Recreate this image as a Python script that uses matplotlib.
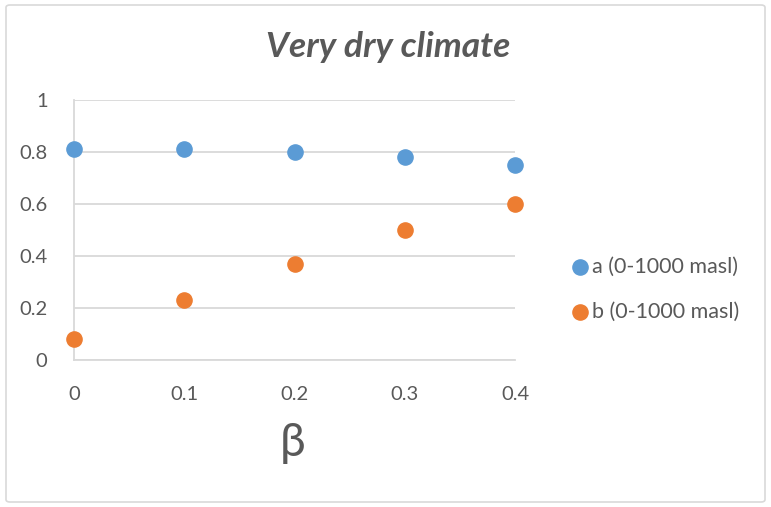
import matplotlib
matplotlib.use("Agg")
from matplotlib import pyplot as plt
from matplotlib.patches import FancyBboxPatch

beta = [0, 0.1, 0.2, 0.3, 0.4]
a_vals = [0.81, 0.81, 0.80, 0.78, 0.75]
b_vals = [0.08, 0.23, 0.37, 0.50, 0.60]
x_ticks = [0, 0.1, 0.2, 0.3, 0.4]
y_ticks = [0, 0.2, 0.4, 0.6, 0.8, 1]

text_col = "#595959"
grid_col = "#D9D9D9"

plt.rcParams["font.family"] = ["Lato", "DejaVu Sans"]

fig = plt.figure(figsize=(7.71, 5.07), dpi=100)
ax = fig.add_axes([74 / 771, 1 - 360 / 507, (515 - 74) / 771, 260 / 507])

ax.scatter(beta, a_vals, s=120, color="#5B9BD5", label="a (0-1000 masl)", zorder=3, clip_on=False)
ax.scatter(beta, b_vals, s=120, color="#ED7D31", label="b (0-1000 masl)", zorder=3, clip_on=False)

ax.set_xlim(0, 0.4)
ax.set_ylim(0, 1)
ax.set_xticks(x_ticks)
ax.set_xticklabels([f"{v:g}" for v in x_ticks])
ax.set_yticks(y_ticks)
ax.set_yticklabels([f"{v:g}" for v in y_ticks])
ax.tick_params(length=0, labelsize=14.5, colors=text_col)
ax.tick_params(axis="x", pad=19)
ax.tick_params(axis="y", pad=19)
ax.grid(axis="y", color=grid_col, linewidth=1.3)
ax.set_axisbelow(True)
for side in ["top", "right"]:
    ax.spines[side].set_visible(False)
for side in ["left", "bottom"]:
    ax.spines[side].set_color(grid_col)
    ax.spines[side].set_linewidth(1.3)

fig.text(388 / 771, 1 - 47 / 507, "Very dry climate", ha="center", va="center",
         fontsize=25.5, fontweight="bold", fontstyle="italic", color=text_col)
fig.text(293 / 771, 1 - 443 / 507, "β", ha="center", va="center",
         fontsize=33, color=text_col)

leg = fig.legend(loc="center left", bbox_to_anchor=(567 / 771, 1 - 289 / 507),
                 frameon=False, fontsize=15.5, handletextpad=-0.05, labelspacing=1.15,
                 markerscale=1.0, handlelength=1.2, borderaxespad=0, borderpad=0)
for t in leg.get_texts():
    t.set_color(text_col)

border = FancyBboxPatch((6 / 771, 5 / 507), 759 / 771, 497 / 507,
                        boxstyle="round,pad=0,rounding_size=0.005",
                        transform=fig.transFigure, fill=False,
                        edgecolor=grid_col, linewidth=1.2)
fig.patches.append(border)

fig.savefig("out.png", dpi=100)
